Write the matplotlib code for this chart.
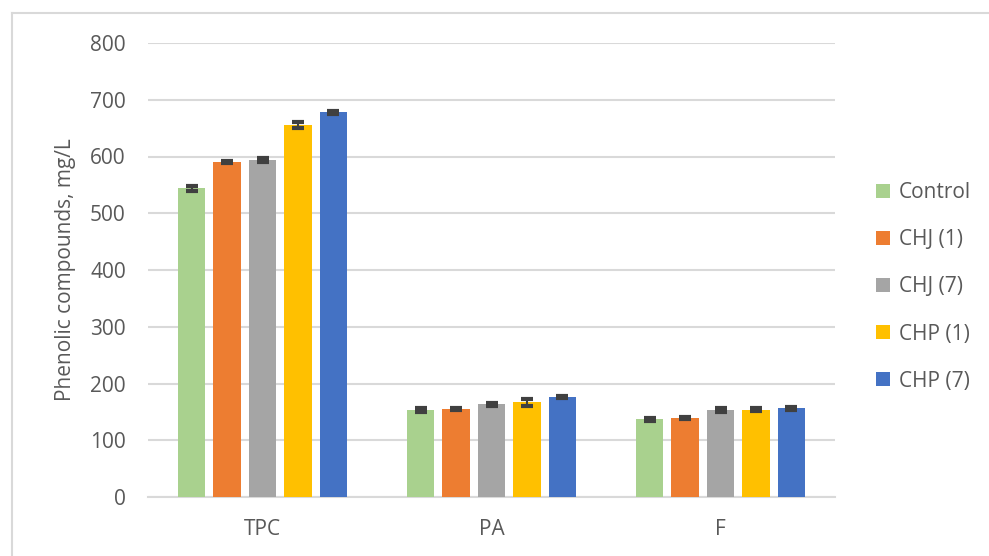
import numpy as np
import matplotlib.pyplot as plt
from matplotlib.lines import Line2D

# Data
categories = ['TPC', 'PA', 'F']
series_names = ['Control', 'CHJ (1)', 'CHJ (7)', 'CHP (1)', 'CHP (7)']
control = [544, 153, 137]
chj_1 = [590, 155, 139]
chj_7 = [594, 163, 153]
chp_1 = [655, 167, 154]
chp_7 = [678, 176, 156]
control_err = [4, 3, 3]
chj_1_err = [2, 2, 2]
chj_7_err = [3, 2, 3]
chp_1_err = [5, 6, 2]
chp_7_err = [3, 2, 2]
y_ticks = [0, 100, 200, 300, 400, 500, 600, 700, 800]

colors = ['#A9D18E', '#ED7D31', '#A5A5A5', '#FFC000', '#4472C4']
text_color = '#595959'

plt.rcParams['font.family'] = ['Open Sans', 'DejaVu Sans']

fig = plt.figure(figsize=(9.89, 5.56), dpi=100)
ax = fig.add_axes([148 / 989, 59 / 556, 687 / 989, 454 / 556])

values = [control, chj_1, chj_7, chp_1, chp_7]
errors = [control_err, chj_1_err, chj_7_err, chp_1_err, chp_7_err]

x = np.arange(len(categories))
slot = 0.155
bar_w = 0.122
for i, (vals, errs) in enumerate(zip(values, errors)):
    pos = x + (i - 2) * slot
    ax.bar(pos, vals, width=bar_w, color=colors[i], label=series_names[i], zorder=3)
    ax.errorbar(pos, vals, yerr=errs, fmt='none', ecolor='#404040',
                elinewidth=1.5, capsize=4.5, capthick=3, zorder=4)

ax.set_xlim(-0.5, 2.5)
ax.set_ylim(0, 800)
ax.set_yticks(y_ticks)
ax.set_xticks(x)
ax.set_xticklabels(categories)
ax.yaxis.grid(True, color='#D9D9D9', linewidth=1.5, zorder=0)
ax.set_axisbelow(True)
for side in ['top', 'right', 'left']:
    ax.spines[side].set_visible(False)
ax.spines['bottom'].set_color('#D9D9D9')
ax.spines['bottom'].set_linewidth(1.5)
ax.tick_params(axis='both', length=0, labelsize=15, colors=text_color)
ax.tick_params(axis='y', pad=16)
ax.tick_params(axis='x', pad=16)
ax.set_ylabel('Phenolic compounds, mg/L', fontsize=15, color=text_color, labelpad=10)

leg = fig.legend(loc='center left', bbox_to_anchor=(876 / 989, 1 - 287 / 556),
                 frameon=False, fontsize=15, handlelength=0.65, handleheight=0.65,
                 handletextpad=0.45, labelspacing=1.25, borderpad=0, borderaxespad=0)
for t in leg.get_texts():
    t.set_color(text_color)

# outer chart frame (cropped at right and bottom in the reference)
fig.add_artist(Line2D([12 / 989, 12 / 989], [0, 1 - 13 / 556],
                      transform=fig.transFigure, color='#D9D9D9', linewidth=1.5))
fig.add_artist(Line2D([12 / 989, 1], [1 - 13 / 556, 1 - 13 / 556],
                      transform=fig.transFigure, color='#D9D9D9', linewidth=1.5))

fig.savefig('out.png', dpi=100)
